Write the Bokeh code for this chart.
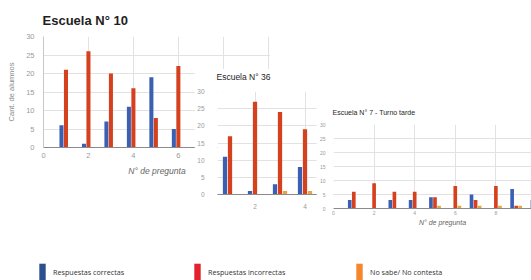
from bokeh.plotting import figure
from bokeh.models import (ColumnDataSource, FixedTicker, Legend, LegendItem, Range1d)
from bokeh.transform import dodge
from bokeh.embed import file_html
from bokeh.resources import INLINE

# ---------------- data ----------------
series_names = ["Respuestas correctas", "Respuestas incorrectas", "No sabe/ No contesta"]

esc10_title = "Escuela N° 10"
esc10_q = [1, 2, 3, 4, 5, 6]
esc10_correctas = [6, 1, 7, 11, 19, 5]
esc10_incorrectas = [21, 26, 20, 16, 8, 22]
esc10_nosabe = [0, 0, 0, 0, 0, 0]

esc36_title = "Escuela N° 36"
esc36_q = [1, 2, 3, 4]
esc36_correctas = [11, 1, 3, 8]
esc36_incorrectas = [17, 27, 24, 19]
esc36_nosabe = [0, 0, 1, 1]

esc7_title = "Escuela N°  7 - Turno tarde"
esc7_q = [1, 2, 3, 4, 5, 6, 7, 8, 9, 10]
esc7_correctas = [3, 0, 3, 3, 4, 0, 5, 0, 7, 3]
esc7_incorrectas = [6, 9, 6, 6, 4, 8, 3, 8, 1, 0]
esc7_nosabe = [0, 0, 0, 0, 1, 1, 1, 1, 1, 0]

y_ticks = [0, 5, 10, 15, 20, 25, 30]
x_ticks_10 = [0, 2, 4, 6, 8, 10]
x_ticks_36 = [2, 4]
x_ticks_7 = [0, 2, 4, 6, 8]
x_title = "N° de pregunta"
y_title = "Cant. de alumnos"

BAR_COLORS = ["#3a5fb3", "#d5401f", "#e8a545"]
LEG_COLORS = ["#2c4f8e", "#e2222c", "#f5872c"]
FONT = "Liberation Sans"


def chart(q, c, i, n, title, left, top, x_end, frame_w, frame_h, mb_left, mb_top,
          mb_bottom, title_size, tick_size, bar_w, ylab_standoff, xlab_standoff,
          x_ticks, title_standoff, xtitle=None, ytitle=None, xtitle_size="8px",
          ytitle_size="7px", title_bold=False, x_start=0, mb_right=0,
          extra_styles=None):
    src = ColumnDataSource(dict(q=q, c=c, i=i, n=n))
    styles = {"position": "absolute", "left": f"{left}px", "top": f"{top}px"}
    if extra_styles:
        styles.update(extra_styles)
    p = figure(output_backend="svg", toolbar_location=None,
               frame_width=frame_w, frame_height=frame_h,
               x_range=Range1d(x_start, x_end), y_range=Range1d(0, 30),
               min_border_left=mb_left, min_border_top=mb_top,
               min_border_right=mb_right, min_border_bottom=mb_bottom,
               background_fill_color="white", border_fill_color="white",
               outline_line_color=None, styles=styles)
    p.title.text = title
    p.title.text_font = FONT
    p.title.text_font_size = title_size
    p.title.text_font_style = "bold" if title_bold else "normal"
    p.title.text_color = "#1e1e1e"
    p.title.standoff = title_standoff
    p.title.offset = -1
    for col, dx, colr in (("c", -0.2, BAR_COLORS[0]), ("i", 0.0, BAR_COLORS[1]),
                          ("n", 0.2, BAR_COLORS[2])):
        p.vbar(x=dodge("q", dx), top=col, width=bar_w, bottom=0, source=src,
               fill_color=colr, line_color=None)
    for ax in (p.xaxis[0], p.yaxis[0]):
        ax.major_tick_out = 0
        ax.major_tick_in = 0
        ax.minor_tick_out = 0
        ax.minor_tick_in = 0
        ax.major_label_text_font = FONT
        ax.major_label_text_font_size = tick_size
        ax.major_label_text_color = "#9a9a9a"
        ax.axis_label_text_font = FONT
    p.yaxis.ticker = FixedTicker(ticks=y_ticks)
    p.xaxis.ticker = FixedTicker(ticks=x_ticks)
    p.xgrid.ticker = FixedTicker(ticks=x_ticks)
    p.yaxis.major_label_standoff = ylab_standoff
    p.xaxis.major_label_standoff = xlab_standoff
    p.yaxis.axis_line_color = None
    p.xaxis.axis_line_color = "#8a8a8a"
    p.grid.grid_line_color = "#e2e2e2"
    if xtitle:
        p.xaxis.axis_label = xtitle
        p.xaxis.axis_label_text_font_style = "italic"
        p.xaxis.axis_label_text_font_size = xtitle_size
        p.xaxis.axis_label_text_color = "#666666"
        p.xaxis.axis_label_standoff = 5
    if ytitle:
        p.yaxis.axis_label = ytitle
        p.yaxis.axis_label_text_font_style = "normal"
        p.yaxis.axis_label_text_font_size = ytitle_size
        p.yaxis.axis_label_text_color = "#8a8a8a"
        p.yaxis.axis_label_standoff = 7
    return p


p1 = chart(esc10_q, esc10_correctas, esc10_incorrectas, esc10_nosabe, esc10_title,
           left=0, top=0, x_end=10.1, frame_w=227, frame_h=111, mb_left=43, mb_top=36,
           mb_bottom=40, title_size="13px", tick_size="7.5px", bar_w=0.18,
           ylab_standoff=9, xlab_standoff=5, x_ticks=x_ticks_10, title_standoff=17,
           xtitle=x_title, ytitle=y_title, xtitle_size="8.5px", ytitle_size="7.5px",
           title_bold=True)
p1.yaxis.axis_line_color = "#c8c8c8"

# the top 12px of this panel are clipped away so the chart beneath stays visible
p2 = chart(esc36_q, esc36_correctas, esc36_incorrectas, esc36_nosabe, esc36_title,
           left=194, top=57, x_start=0.5, x_end=5.74, frame_w=131, frame_h=103,
           mb_left=20, mb_top=34, mb_bottom=20, title_size="8.5px", tick_size="6.5px",
           bar_w=0.17, ylab_standoff=13, xlab_standoff=9, x_ticks=x_ticks_36,
           title_standoff=20, mb_right=5,
           extra_styles={"clip-path": "inset(12px 0px 0px 0px)"})

p3 = chart(esc7_q, esc7_correctas, esc7_incorrectas, esc7_nosabe, esc7_title,
           left=316, top=94, x_end=10.74, frame_w=218, frame_h=84,
           mb_left=15, mb_top=30, mb_bottom=22, title_size="7px", tick_size="5px",
           bar_w=0.18, ylab_standoff=8, xlab_standoff=2, x_ticks=x_ticks_7,
           title_standoff=18, xtitle=x_title, xtitle_size="7px",
           extra_styles={"width": "215px", "overflow": "hidden",
                         "clip-path": "inset(3px 0px 0px 0px)"})
p3.xaxis.axis_label_standoff = 1

# legend strip
p4 = figure(output_backend="svg", toolbar_location=None, width=531, height=30,
            x_range=Range1d(0, 1), y_range=Range1d(0, 1),
            min_border=0, outline_line_color=None,
            x_axis_location=None, y_axis_location=None,
            background_fill_color=None, border_fill_color=None,
            styles={"position": "absolute", "left": "0px", "top": "250px"})
p4.grid.visible = False
leg_x = [38, 193, 355]
for name, colr, lx in zip(series_names, LEG_COLORS, leg_x):
    r = p4.vbar(x=[-5], top=[0], width=0.1, fill_color=colr, line_color=None)
    leg = Legend(items=[LegendItem(label=name, renderers=[r])], location=(lx, -3),
                 padding=0, margin=0, spacing=0, border_line_color=None,
                 background_fill_alpha=0, glyph_width=8, glyph_height=22,
                 label_height=22, label_standoff=7, label_text_font="Open Sans",
                 label_text_font_size="7.2px", label_text_color="#333333")
    p4.add_layout(leg, "center")

open("out.html", "w").write(file_html([p1, p2, p3, p4], INLINE))
